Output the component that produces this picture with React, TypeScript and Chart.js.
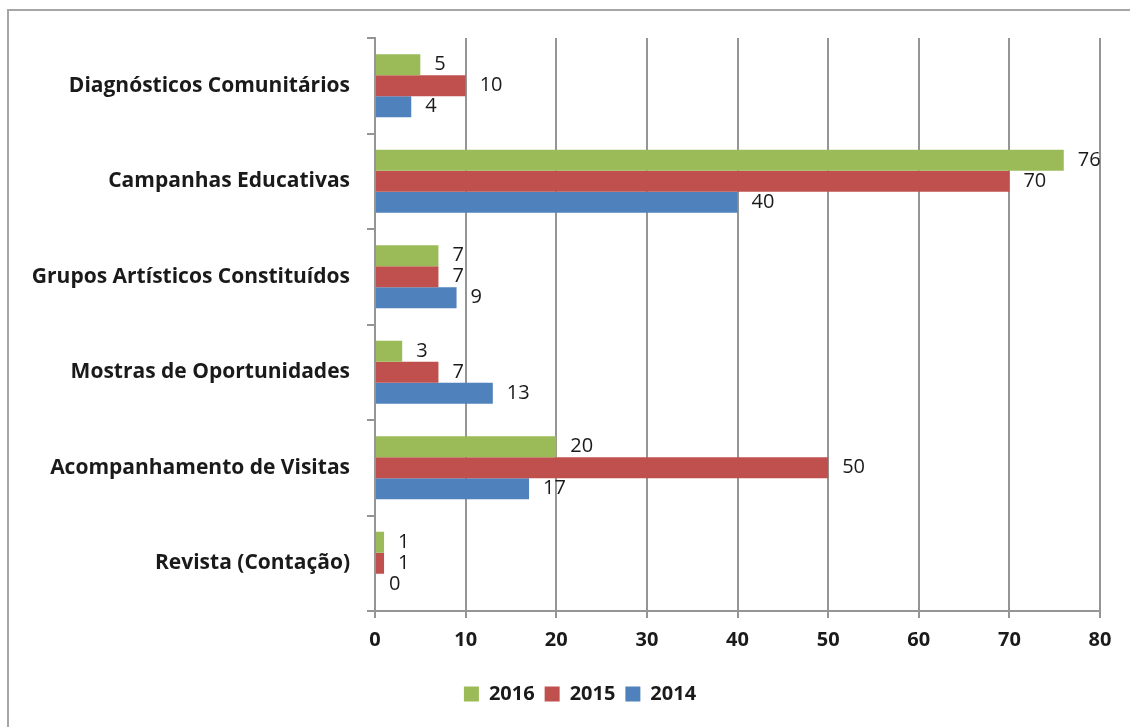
import React, { useEffect, useRef } from "react";
import { Chart, registerables } from "chart.js";

Chart.register(...registerables);

const categories = [
  "Diagnósticos Comunitários",
  "Campanhas Educativas",
  "Grupos Artísticos Constituídos",
  "Mostras de Oportunidades",
  "Acompanhamento de Visitas",
  "Revista (Contação)",
];
const seriesNames = ["2016", "2015", "2014"];
const values2016 = [5, 76, 7, 3, 20, 1];
const values2015 = [10, 70, 7, 7, 50, 1];
const values2014 = [4, 40, 9, 13, 17, 0];
const xMin = 0;
const xMax = 80;
const xStep = 10;

const colors = ["#9BBB59", "#C0504D", "#4F81BD"];
const gridColor = "#959595";
const textColor = "#1a1a1a";
const fontFamily = '"Open Sans", "DejaVu Sans", sans-serif';

const dataLabelPlugin = {
  id: "dataLabels",
  afterDatasetsDraw(chart: any) {
    const ctx = chart.ctx;
    ctx.save();
    ctx.font = `20px ${fontFamily}`;
    ctx.fillStyle = textColor;
    ctx.textAlign = "left";
    ctx.textBaseline = "middle";
    chart.data.datasets.forEach((ds: any, i: number) => {
      const meta = chart.getDatasetMeta(i);
      meta.data.forEach((el: any, j: number) => {
        ctx.fillText(String(ds.data[j]), el.x + 14, el.y);
      });
    });
    ctx.restore();
  },
};

const legendShiftPlugin = {
  id: "legendShift",
  afterLayout(chart: any) {
    if (chart.legend) {
      chart.legend.left += 20;
      chart.legend.right += 20;
    }
  },
};

export default function App() {
  const canvasRef = useRef<HTMLCanvasElement | null>(null);

  useEffect(() => {
    document.body.style.background = "#ffffff";
    const canvas = canvasRef.current;
    if (!canvas) return;
    const seriesValues = [values2016, values2015, values2014];
    const chart = new Chart(canvas, {
      type: "bar",
      data: {
        labels: categories,
        datasets: seriesNames.map((name, i) => ({
          label: name,
          data: seriesValues[i],
          backgroundColor: colors[i],
          borderWidth: 0,
          barPercentage: 1,
          categoryPercentage: 0.66,
        })),
      },
      options: {
        indexAxis: "y",
        responsive: true,
        maintainAspectRatio: false,
        animation: false,
        layout: { padding: { left: 20, right: 30, top: 38, bottom: 13 } },
        plugins: {
          tooltip: { enabled: false },
          legend: {
            position: "bottom",
            labels: {
              boxWidth: 15,
              boxHeight: 15,
              padding: 10,
              color: textColor,
              font: { family: fontFamily, size: 20, weight: "bold" },
            },
          },
        },
        scales: {
          x: {
            type: "linear",
            min: xMin,
            max: xMax,
            ticks: {
              stepSize: xStep,
              color: textColor,
              padding: 10,
              font: { family: fontFamily, size: 20, weight: "bold" },
            },
            grid: { color: gridColor, lineWidth: 2, tickLength: 7, drawTicks: true },
            border: { color: gridColor, width: 2 },
            afterFit: (scale: any) => {
              scale.height = 63;
            },
          },
          y: {
            type: "category",
            offset: true,
            ticks: {
              color: textColor,
              padding: 17,
              font: { family: fontFamily, size: 21, weight: "bold" },
            },
            grid: {
              offset: true,
              drawOnChartArea: false,
              drawTicks: true,
              tickLength: 8,
              color: gridColor,
              lineWidth: 2,
            },
            border: { color: gridColor, width: 2 },
            afterFit: (scale: any) => {
              scale.width = 355;
            },
          },
        },
      },
      plugins: [dataLabelPlugin, legendShiftPlugin],
    } as any);
    return () => chart.destroy();
  }, []);

  return (
    <div>
      <div
        style={{
          position: "fixed",
          left: 7,
          top: 9,
          width: 1300,
          height: 900,
          border: "2px solid #a6a6a6",
          boxSizing: "border-box",
        }}
      />
      <div style={{ position: "fixed", left: 0, top: 0, width: 1130, height: 727 }}>
        <canvas ref={canvasRef} />
      </div>
    </div>
  );
}
